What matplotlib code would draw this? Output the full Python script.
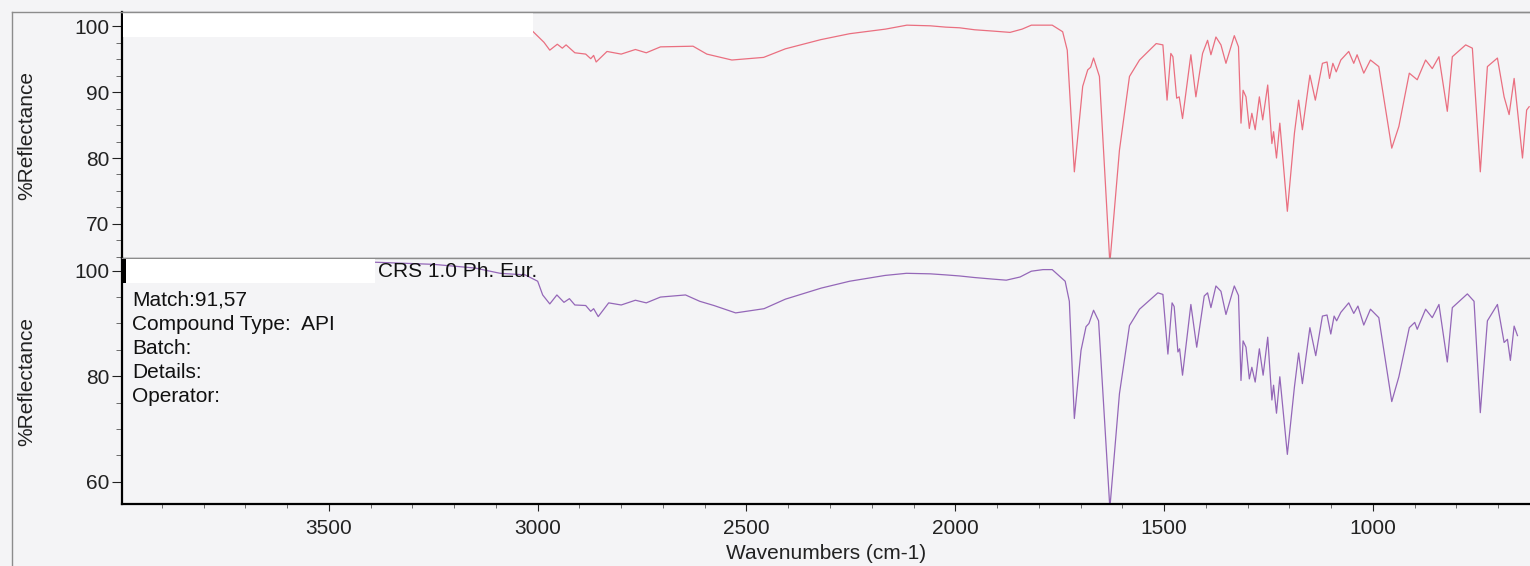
import matplotlib
matplotlib.use("Agg")
import matplotlib.pyplot as plt
from matplotlib.lines import Line2D
from matplotlib.patches import Rectangle
from matplotlib.ticker import MultipleLocator

plt.rcParams["font.family"] = ["Liberation Sans", "DejaVu Sans"]

# ---------------------------------------------------------------------
# Spectra (wavenumber in cm-1, %Reflectance)
# ---------------------------------------------------------------------
SAMPLE_WN = [3996, 3600, 3300, 3100, 3040, 3014, 2985, 2971, 2953, 2941, 2932,
             2911, 2885, 2873, 2866, 2860, 2834, 2800, 2766, 2740, 2706, 2628,
             2595, 2535, 2459, 2407, 2322, 2253, 2167, 2116, 2060, 2023, 1990,
             1954, 1910, 1869, 1840, 1818, 1790, 1768, 1743, 1732, 1715, 1695,
             1683, 1676, 1669, 1655, 1630, 1607, 1583, 1559, 1519, 1503, 1493,
             1484, 1479, 1470, 1464, 1456, 1436, 1424, 1408, 1396, 1388, 1376,
             1364, 1352, 1332, 1322, 1316, 1311, 1304, 1296, 1290, 1282, 1272,
             1264, 1252, 1242, 1238, 1231, 1223, 1205, 1188, 1178, 1169, 1151,
             1138, 1121, 1110, 1104, 1096, 1088, 1077, 1058, 1046, 1038, 1022,
             1006, 986, 955, 938, 913, 894, 874, 858, 842, 822, 810, 778, 762,
             743, 726, 702, 686, 674, 662, 642, 632, 626]
SAMPLE_R = [100.6, 100.6, 100.4, 100.0, 99.7, 99.4, 97.6, 96.4, 97.3, 96.7, 97.2,
            96.0, 95.8, 95.1, 95.6, 94.6, 96.2, 95.8, 96.5, 96.0, 96.9, 97.0,
            95.8, 94.9, 95.3, 96.6, 98.0, 98.9, 99.6, 100.2, 100.1, 99.9, 99.8,
            99.5, 99.3, 99.1, 99.6, 100.2, 100.2, 100.2, 99.2, 96.4, 77.9, 90.9,
            93.4, 93.8, 95.2, 92.4, 64.0, 81.2, 92.4, 94.9, 97.4, 97.2, 88.8,
            95.9, 95.4, 89.1, 89.3, 86.0, 95.7, 89.3, 95.9, 97.9, 95.7, 98.4,
            97.2, 94.4, 98.6, 96.9, 85.3, 90.3, 89.3, 84.5, 86.8, 84.3, 89.3,
            85.8, 91.1, 82.2, 84.0, 80.0, 85.3, 71.9, 83.8, 88.8, 84.3, 92.6,
            88.8, 94.4, 94.6, 92.1, 94.4, 93.1, 94.9, 96.2, 94.4, 95.7, 92.9,
            94.9, 93.9, 81.5, 84.8, 92.9, 91.9, 94.9, 93.6, 95.4, 87.1, 95.4,
            97.2, 96.7, 77.9, 93.9, 95.2, 89.3, 86.6, 92.1, 80.0, 87.3, 87.8]

REF_WN = [3996, 3600, 3390, 3250, 3150, 3090, 3030, 3000, 2988, 2971, 2954,
          2937, 2924, 2911, 2885, 2873, 2866, 2855, 2830, 2800, 2766, 2740,
          2706, 2646, 2612, 2578, 2526, 2458, 2407, 2321, 2253, 2168, 2117,
          2060, 2023, 1990, 1954, 1910, 1878, 1845, 1818, 1790, 1768, 1737,
          1727, 1715, 1699, 1687, 1680, 1669, 1657, 1630, 1607, 1583, 1559,
          1515, 1503, 1491, 1481, 1476, 1467, 1463, 1456, 1436, 1422, 1404,
          1396, 1388, 1376, 1364, 1352, 1332, 1322, 1316, 1311, 1304, 1296,
          1290, 1282, 1272, 1263, 1252, 1242, 1238, 1231, 1223, 1205, 1188,
          1178, 1169, 1151, 1137, 1121, 1110, 1101, 1093, 1087, 1077, 1058,
          1046, 1036, 1022, 1006, 986, 955, 938, 913, 900, 894, 874, 858,
          842, 822, 810, 774, 758, 743, 726, 702, 686, 678, 671, 662, 654]
REF_R = [101.8, 101.8, 101.6, 101.2, 100.5, 99.5, 99.2, 98.0, 95.4, 93.7, 95.4,
         94.0, 94.7, 93.5, 93.4, 92.3, 92.8, 91.3, 93.9, 93.5, 94.4, 93.9,
         95.0, 95.4, 94.2, 93.4, 92.0, 92.8, 94.6, 96.7, 98.0, 99.1, 99.5,
         99.4, 99.2, 99.0, 98.7, 98.4, 98.2, 98.8, 99.9, 100.2, 100.2, 98.0,
         94.2, 72.0, 84.9, 89.4, 90.0, 92.5, 90.5, 55.0, 76.7, 89.6, 92.7,
         95.8, 95.5, 84.2, 93.9, 93.2, 84.6, 85.2, 80.2, 93.6, 85.5, 95.2,
         95.8, 93.0, 97.1, 96.1, 91.7, 97.1, 95.3, 79.2, 86.7, 85.5, 79.5,
         81.7, 78.9, 85.2, 80.2, 87.4, 75.5, 78.3, 73.0, 79.9, 65.2, 78.0,
         84.4, 78.6, 89.2, 83.9, 91.4, 91.6, 88.0, 91.4, 90.5, 92.1, 93.9,
         91.9, 93.3, 89.7, 92.7, 91.1, 75.2, 79.9, 89.2, 90.2, 88.9, 92.7,
         91.1, 93.6, 82.7, 93.0, 95.6, 94.2, 73.1, 90.5, 93.6, 86.4, 87.0,
         83.0, 89.5, 87.7]

REF_TITLE = "CRS 1.0 Ph. Eur."
INFO_LINES = ["Match:91,57", "Compound Type:  API", "Batch:", "Details:", "Operator:"]

X_RANGE = (3996, 624)
TOP_YRANGE = (64.8, 102.2)
BOT_YRANGE = (55.8, 102.4)

BG = "#f4f4f6"
SAMPLE_COLOR = "#ea6f80"
REF_COLOR = "#9467b8"
FS = 15

fig = plt.figure(figsize=(15.3, 5.66), dpi=100, facecolor=BG)
W, H = 1530.0, 566.0
left = 121.7 / W
ax_top = fig.add_axes([left, 1 - 258 / H, 1 - left, 246 / H], facecolor=BG)
ax_bot = fig.add_axes([left, 1 - 504 / H, 1 - left, 246 / H], facecolor=BG)

# outer frame of the report page
fig.add_artist(Line2D([12 / W, 12 / W], [0, 1 - 12 / H], transform=fig.transFigure,
                      color="#8c8c8c", lw=1.0))
fig.add_artist(Line2D([12 / W, 1], [1 - 12 / H, 1 - 12 / H], transform=fig.transFigure,
                      color="#8c8c8c", lw=1.0))

ax_top.plot(SAMPLE_WN, SAMPLE_R, color=SAMPLE_COLOR, lw=0.9)
ax_bot.plot(REF_WN, REF_R, color=REF_COLOR, lw=0.9)

for ax, yr in ((ax_top, TOP_YRANGE), (ax_bot, BOT_YRANGE)):
    ax.set_xlim(*X_RANGE)
    ax.set_ylim(*yr)
    ax.spines["right"].set_visible(False)
    ax.spines["left"].set_color("black")
    ax.spines["left"].set_linewidth(1.6)
    ax.spines["top"].set_color("#8c8c8c")
    ax.spines["top"].set_linewidth(1.0)
    ax.set_ylabel("%Reflectance", fontsize=FS, color="#222222")
    ax.yaxis.set_label_coords(-0.061, 0.5)
    ax.tick_params(axis="y", which="major", direction="out", length=7, width=0.8,
                   labelsize=FS, colors="#222222", pad=2)
    ax.tick_params(axis="y", which="minor", direction="out", length=4, width=0.6,
                   colors="#555555")

ax_top.yaxis.set_major_locator(MultipleLocator(10))
ax_top.yaxis.set_minor_locator(MultipleLocator(2.5))
ax_top.spines["bottom"].set_color("#8c8c8c")
ax_top.spines["bottom"].set_linewidth(1.0)
ax_top.tick_params(axis="x", which="both", bottom=False, labelbottom=False)

ax_bot.yaxis.set_major_locator(MultipleLocator(20))
ax_bot.yaxis.set_minor_locator(MultipleLocator(5))
ax_bot.spines["bottom"].set_color("black")
ax_bot.spines["bottom"].set_linewidth(1.6)
ax_bot.xaxis.set_major_locator(MultipleLocator(500))
ax_bot.xaxis.set_minor_locator(MultipleLocator(100))
ax_bot.tick_params(axis="x", which="major", direction="out", length=5, width=0.8,
                   labelsize=FS, colors="#222222", pad=6)
ax_bot.tick_params(axis="x", which="minor", direction="out", length=3, width=0.6,
                   colors="#555555")
ax_bot.set_xticks([3500, 3000, 2500, 2000, 1500, 1000])
ax_bot.set_xlabel("Wavenumbers (cm-1)", fontsize=FS, color="#222222", labelpad=4)

# blanked-out header fields
ax_top.add_patch(Rectangle((0.001, 0.8996), 0.2907, 0.1004, transform=ax_top.transAxes,
                           facecolor="white", edgecolor="none", zorder=5, clip_on=False))
ax_bot.add_patch(Rectangle((0.001, 0.898), 0.1789, 0.097, transform=ax_bot.transAxes,
                           facecolor="white", edgecolor="none", zorder=5, clip_on=False))
ax_bot.add_patch(Rectangle((0.0, 0.898), 0.003, 0.097, transform=ax_bot.transAxes,
                           facecolor="black", edgecolor="none", zorder=6, clip_on=False))

ax_bot.text(0.182, 0.946, REF_TITLE, transform=ax_bot.transAxes, fontsize=FS,
            va="center", ha="left", color="#111111", zorder=7)
for i, line in enumerate(INFO_LINES):
    ax_bot.text(0.0073, 0.830 - i * 0.0985, line, transform=ax_bot.transAxes,
                fontsize=FS, va="center", ha="left", color="#111111", zorder=7)

fig.savefig("out.png", dpi=100, facecolor=BG)
